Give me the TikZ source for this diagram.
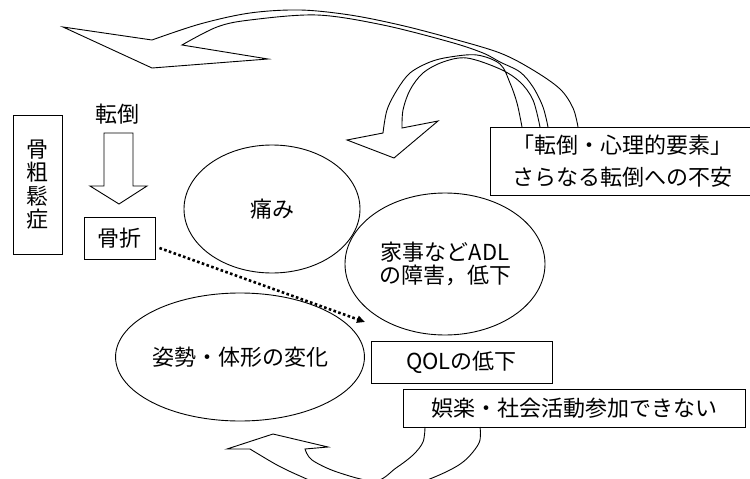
\documentclass[tikz,border=0pt]{standalone}
\usepackage{fontspec}
\setmainfont{Noto Sans CJK JP}
\usetikzlibrary{arrows.meta,calc,shapes.geometric}
\begin{document}
\begin{tikzpicture}[x=1pt,y=-1pt,
  every node/.style={font=\fontsize{22pt}{26pt}\selectfont, inner sep=0pt},
  box/.style={draw, line width=0.9pt, rectangle},
  oval/.style={draw, line width=0.9pt, ellipse},
  band/.style={draw, line width=0.9pt, line join=miter},
  dotline/.style={line width=2.6pt, dash pattern=on 2.6pt off 2.4pt, -{Triangle[length=8pt,width=7pt]}}]
\useasboundingbox (0,0) rectangle (750,479);
\begin{scope}
\clip (0,0) rectangle (750,479);
% nodes
\node[box, minimum width=49pt, minimum height=139pt, align=center, font=\fontsize{22pt}{23.5pt}\selectfont] (oste) at (37.5,184.5) {骨\\粗\\鬆\\症};
\node (fall) at (117,114) {転倒};
\node[box, minimum width=71pt, minimum height=42pt] (frac) at (119.5,238) {骨折};
\node[oval, minimum width=176pt, minimum height=128pt] (pain) at (272,209) {痛み};
\node[oval, minimum width=200pt, minimum height=142pt, align=center, font=\fontsize{22pt}{23pt}\selectfont] (adl) at (445,264) {家事などADL\\の障害，低下};
\node[box, minimum width=265pt, minimum height=68pt, align=center, font=\fontsize{22pt}{32pt}\selectfont] (fear) at (622.5,161) {「転倒・心理的要素」\\さらなる転倒への不安};
\node[oval, minimum width=246pt, minimum height=128pt] (posture) at (240,357) {姿勢・体形の変化};
\node[box, minimum width=181pt, minimum height=42pt] (qol) at (461.5,362) {QOLの低下};
\node[box, minimum width=342pt, minimum height=38pt] (leisure) at (574,408) {娯楽・社会活動参加できない};
% down block arrow
\draw[band] (104,133) -- (133,133) -- (133,186) -- (147,186) -- (119,204) -- (90,186) -- (104,186) -- cycle;
% dotted arrow
\coordinate (dotend) at (365,322);
\draw[dotline] ($(frac.east)+(4,10)$) -- (dotend);
% top big curved arrow
\draw[band] plot[smooth,tension=0.55] coordinates {(578,127) (573,108) (560,89) (533,70) (500,53) (450,38) (400,25) (350,15) (300,10) (250,13) (200,24) (152,40)}
  -- (63,27) -- (152,68) -- (268,59)
  -- plot[smooth,tension=0.55] coordinates {(182,45) (217,27) (250,20) (317,15) (383,25) (450,42) (483,53) (500,62) (520,72) (533,87) (543,107) (548,127)};
% second curved arrow
\draw[band] plot[smooth,tension=0.55] coordinates {(522,127) (517,103) (510,83) (500,64) (477,55) (450,57) (430,62) (410,73) (397,90) (387,110) (383,133)}
  -- (347,140) -- (394,158) -- (438,121)
  -- plot[smooth,tension=0.55] coordinates {(402,128) (403,110) (410,90) (423,73) (443,62) (467,58) (500,69) (520,82) (533,100) (540,127)};
% bottom curved arrow
\draw[band] plot[smooth,tension=0.55] coordinates {(480,427) (479,443) (463,462) (437,476) (400,489) (362,493) (325,486) (300,476) (277,465) (250,449)}
  -- (227,449) -- (273,434) -- (328,447)
  -- plot[smooth,tension=0.55] coordinates {(305,449) (312,460) (337,472) (375,481) (396,468) (413,455) (423,442) (425,427)};
\end{scope}
\end{tikzpicture}
\end{document}
